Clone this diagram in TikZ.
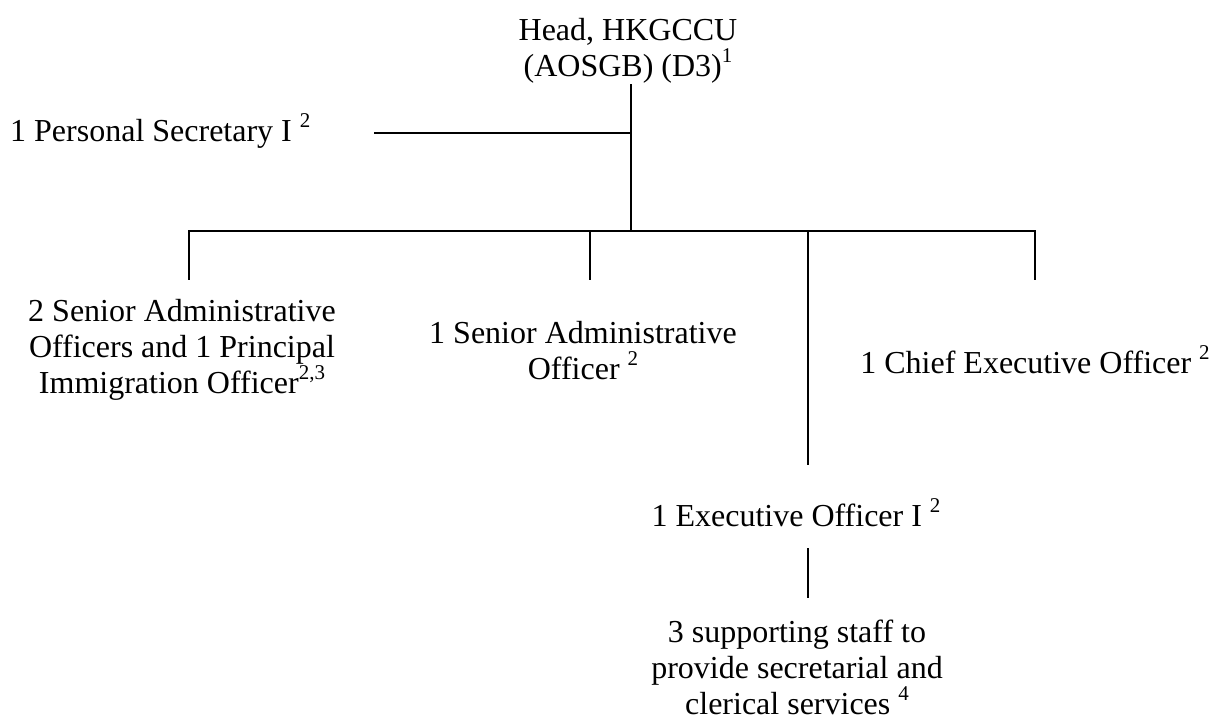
\documentclass[tikz,border=0pt]{standalone}
\usepackage{fontspec}
\setmainfont{Liberation Serif}
\newcommand\supnum[1]{\raisebox{0.42em}{\fontsize{21}{21}\selectfont #1}}
\begin{document}
\begin{tikzpicture}[x=1pt,y=-1pt,
  lbl/.style={inner sep=0pt, anchor=base, align=center, font=\fontsize{32}{36}\selectfont},
  ln/.style={line width=2pt, line cap=rect}]
\useasboundingbox (0,0) rectangle (1221,720);
% text nodes (anchor base = baseline of last line)
\node[lbl] (head) at (628,76) {Head, HKGCCU\\(AOSGB) (D3)\supnum{1}};
\node[lbl, anchor=base west] (ps) at (10,141) {1 Personal Secretary I \supnum{2}};
\node[lbl] (sao2) at (182,393) {2 Senior Administrative\\Officers and 1 Principal\\Immigration Officer\supnum{2,3}};
\node[lbl] (sao1) at (583,379) {1 Senior Administrative\\Officer \supnum{2}};
\node[lbl] (ceo) at (1035,373) {1 Chief Executive Officer \supnum{2}};
\node[lbl] (eo) at (796,526) {1 Executive Officer I \supnum{2}};
\node[lbl] (staff) at (797,714) {3 supporting staff to\\provide secretarial and\\clerical services \supnum{4}};
% junction coordinates
\coordinate (ht) at (631,85);
\coordinate (psj) at (631,133);
\coordinate (pse) at (375,133);
\coordinate (hj) at (631,231);
\coordinate (b1) at (189,231);
\coordinate (b2) at (590,231);
\coordinate (b3) at (808,231);
\coordinate (b4) at (1035,231);
\coordinate (d1) at (189,279);
\coordinate (d2) at (590,279);
\coordinate (d3) at (808,464);
\coordinate (d4) at (1035,279);
\coordinate (e1) at (808,549);
\coordinate (e2) at (808,597);
% connectors
\draw[ln] (ht) -- (hj);
\draw[ln] (pse) -- (psj);
\draw[ln] (b1) -- (b4);
\draw[ln] (b1) -- (d1);
\draw[ln] (b2) -- (d2);
\draw[ln] (b3) -- (d3);
\draw[ln] (b4) -- (d4);
\draw[ln] (e1) -- (e2);
\end{tikzpicture}
\end{document}
